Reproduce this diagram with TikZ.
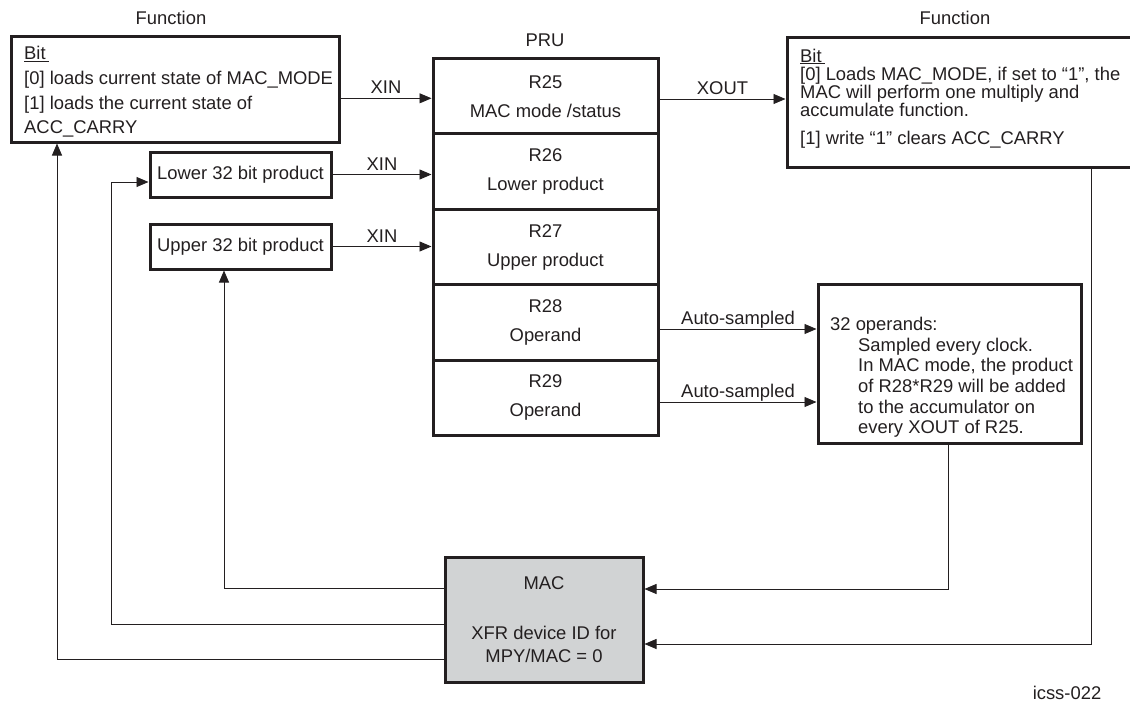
\documentclass[tikz,border=0pt]{standalone}
\usepackage{fontspec}
\setmainfont{Liberation Sans}
\usetikzlibrary{arrows.meta,calc}
\definecolor{ink}{RGB}{35,31,32}
\definecolor{macfill}{RGB}{209,211,212}
\begin{document}
\begin{tikzpicture}[x=1pt,y=-1pt,
  every node/.style={font=\fontsize{18.4}{22}\selectfont, text=ink, inner sep=0pt},
  box/.style={draw=ink, line width=3pt, outer sep=1.5pt},
  reg/.style={box, minimum width=225, minimum height=75.4, align=center,
              font=\fontsize{18.4}{29}\selectfont},
  conn/.style={draw=ink, line width=0.9pt},
  arr/.style={conn, -{Triangle[length=12pt,width=10pt]}},
  lbl/.style={above=4pt, text depth=0pt}]
\useasboundingbox (0,0) rectangle (1130,705);

% titles
\node (t1) at (171,18) {Function};
\node (t2) at (955,18) {Function};
\node (t3) at (545,40) {PRU};
\node (t4) at (1067,693) {icss-022};

% left function box
\node[box, minimum width=328, minimum height=106] (fin) at (175,89) {};
\node[anchor=north west, align=left, font=\fontsize{18.4}{24.6}\selectfont] (fintext) at (24,46.4)
  {\underline{Bit\,}\\ {[0]} loads current state of MAC\_MODE\\ {[1]} loads the current state of\\ ACC\_CARRY};

% product boxes
\node[box, minimum width=181, minimum height=45] (lower) at (240.5,174.5) {Lower 32 bit product};
\node[box, minimum width=181, minimum height=45] (upper) at (240.5,246.5) {Upper 32 bit product};

% PRU registers
\node[reg] (r25) at (545.5,96.2) {R25\\MAC mode /status};
\node[reg] (r26) at (545.5,171.6) {R26\\Lower product};
\node[reg] (r27) at (545.5,247) {R27\\Upper product};
\node[reg] (r28) at (545.5,322.4) {R28\\Operand};
\node[reg] (r29) at (545.5,397.8) {R29\\Operand};

% right function box
\node[box, minimum width=350, minimum height=130] (fout) at (962,102) {};
\node[anchor=north west, align=left, font=\fontsize{18.4}{18.3}\selectfont] (fouttext) at (800,48.5)
  {\underline{Bit\,}\\ {[0]} Loads MAC\_MODE, if set to “1”, the\\ MAC will perform one multiply and\\ accumulate function.\\[9.5pt] {[1]} write “1” clears ACC\_CARRY};

% operands box
\node[box, minimum width=263, minimum height=159] (ops) at (949.5,363.5) {};
\node[anchor=north west, align=left, font=\fontsize{18.4}{20.6}\selectfont] (opstext) at (830,317.2)
  {32 operands:\\ \hspace*{28pt}Sampled every clock.\\ \hspace*{28pt}In MAC mode, the product\\ \hspace*{28pt}of R28*R29 will be added\\ \hspace*{28pt}to the accumulator on\\ \hspace*{28pt}every XOUT of R25.};

% MAC box
\node[box, fill=macfill, minimum width=198, minimum height=125, align=center,
      font=\fontsize{18.4}{23}\selectfont] (mac) at (544,619.5)
  {MAC\\[27pt]XFR device ID for\\MPY/MAC = 0};

% coordinates for connector routing
\coordinate (a0) at (0,98.3);
\coordinate (ax) at (0,99);
\coordinate (a1) at (0,329);
\coordinate (a2) at (0,402);
\coordinate (c1) at (224,588);
\coordinate (c2) at (111,624);
\coordinate (c2b) at (111,182);
\coordinate (c3) at (57,659);
\coordinate (c4) at (948,589);
\coordinate (c5) at (1091,644);

% XIN / XOUT / auto-sampled
\draw[arr] (fin.east |- a0) -- node[lbl] {XIN} (r25.west |- a0);
\draw[arr] (lower.east) -- node[lbl] {XIN} (lower.east -| r26.west);
\draw[arr] (upper.east) -- node[lbl] {XIN} (upper.east -| r27.west);
\draw[arr] (r25.east |- ax) -- node[lbl] {XOUT} (fout.west |- ax);
\draw[arr] (r28.east |- a1) -- node[lbl] {Auto-sampled} (ops.west |- a1);
\draw[arr] (r29.east |- a2) -- node[lbl] {Auto-sampled} (ops.west |- a2);

% MAC feedback
\draw[arr] (mac.west |- c1) -- (c1) -- (c1 |- upper.south);
\draw[arr] (mac.west |- c2) -- (c2) -- (c2b) -- (lower.west |- c2b);
\draw[arr] (mac.west |- c3) -- (c3) -- (c3 |- fin.south);
\draw[arr] (ops.south -| c4) -- (c4) -- (mac.east |- c4);
\draw[arr] (fout.south -| c5) -- (c5) -- (mac.east |- c5);
\end{tikzpicture}
\end{document}
